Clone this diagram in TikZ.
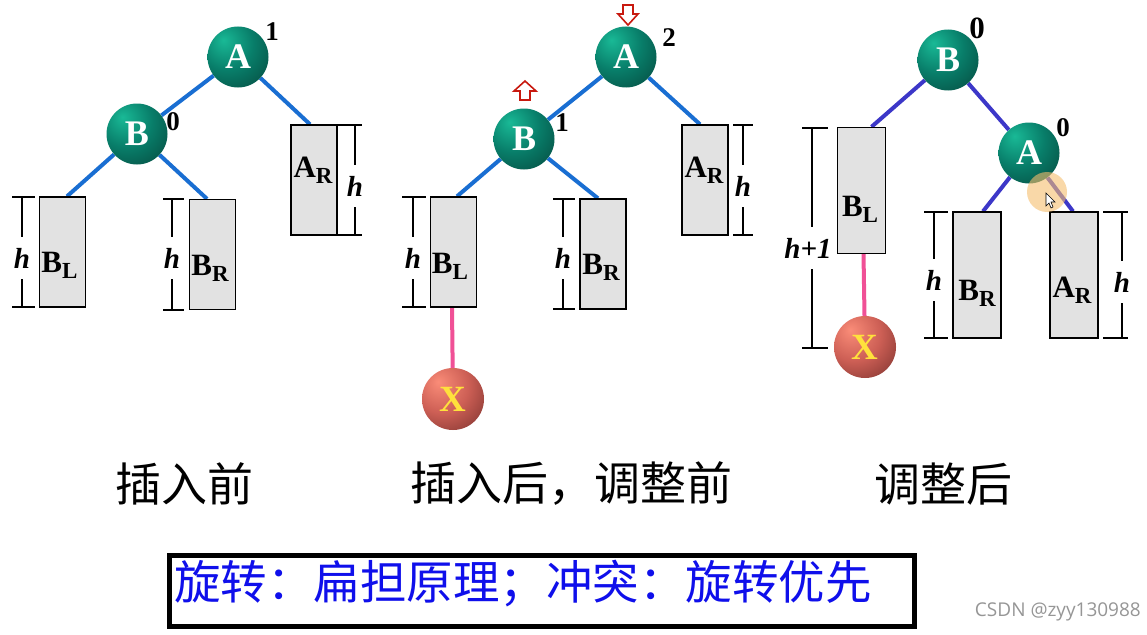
\documentclass[tikz,border=0pt]{standalone}
\usepackage{fontspec}
\setmainfont{Liberation Serif}
\newfontfamily\cjk{Noto Sans CJK SC}
\newfontfamily\wmfont{Open Sans}
\usetikzlibrary{calc}

\definecolor{ballhi}{RGB}{25,185,150}
\definecolor{ballmid}{RGB}{8,125,105}
\definecolor{balldk}{RGB}{5,68,58}
\definecolor{xhi}{RGB}{250,140,120}
\definecolor{xmid}{RGB}{205,95,85}
\definecolor{xdk}{RGB}{115,45,42}
\definecolor{xyellow}{RGB}{255,225,60}
\definecolor{edgeblue}{RGB}{25,110,210}
\definecolor{edgepurple}{RGB}{60,55,200}
\definecolor{pinkline}{RGB}{240,80,150}
\definecolor{boxgray}{RGB}{226,226,226}
\definecolor{arrowred}{RGB}{200,25,15}
\definecolor{textblue}{RGB}{15,15,235}
\definecolor{wmgray}{RGB}{150,150,150}
\definecolor{cursorhl}{RGB}{245,190,110}

\pgfdeclareradialshading{greenball}{\pgfpoint{-12bp}{14bp}}{color(0bp)=(ballhi); color(22bp)=(ballmid); color(48bp)=(balldk); color(100bp)=(balldk)}
\pgfdeclareradialshading{redball}{\pgfpoint{-12bp}{14bp}}{color(0bp)=(xhi); color(22bp)=(xmid); color(48bp)=(xdk); color(100bp)=(xdk)}

\pgfdeclarelayer{bg}
\pgfsetlayers{bg,main}

\newcommand{\sbx}[2]{#1\raisebox{-6pt}{\fontsize{23}{23}\selectfont #2}}

\tikzset{
  ball/.style={circle, minimum size=61pt, inner sep=0pt, shading=greenball, text=white,
    font=\fontsize{36}{36}\selectfont\bfseries},
  xball/.style={circle, minimum size=62pt, inner sep=0pt, shading=redball, text=xyellow,
    font=\fontsize{37}{37}\selectfont\bfseries},
  subtree/.style={draw=black, line width=1.3pt, fill=boxgray, minimum width=46pt,
    minimum height=110pt, inner sep=0pt},
  subtreebig/.style={subtree, minimum width=48pt, minimum height=126pt},
  balnum/.style={font=\fontsize{27}{27}\selectfont\bfseries, inner sep=0pt},
  balnumbig/.style={font=\fontsize{31}{31}\selectfont\bfseries, inner sep=0pt},
  blab/.style={font=\fontsize{31}{31}\selectfont\bfseries, inner sep=0pt},
  hlab/.style={font=\fontsize{29}{29}\selectfont\bfseries\itshape, inner xsep=0pt, inner ysep=11pt},
  brk/.style={line width=1.3pt, black},
  edgeA/.style={line width=4pt, edgeblue},
  edgeB/.style={line width=4pt, edgepurple},
  edgeX/.style={line width=4pt, pinkline},
  redarr/.style={draw=arrowred, line width=1.6pt, fill=white, line join=miter},
  caption/.style={font=\cjk\fontsize{46}{46}\selectfont, inner sep=0pt},
}

\newcommand{\hbr}[8]{%
  \coordinate (#1t) at (#2,#3);
  \coordinate (#1b) at (#2,#4);
  \draw[brk] (#5,#3) -- (#6,#3);
  \draw[brk] (#5,#4) -- (#6,#4);
  \node[hlab] (#1h) at (#2,#7) {#8};
  \draw[brk] (#1t) -- (#1h.north);
  \draw[brk] (#1h.south) -- (#1b);
}

\begin{document}
\begin{tikzpicture}[x=1pt,y=-1pt]
\useasboundingbox (0,0) rectangle (1147,634);
\begin{pgfonlayer}{bg}
  \fill[white] (0,0) rectangle (1147,634);
\end{pgfonlayer}

% ---------------- Tree 1: before insertion ----------------
\node[ball] (A1) at (238,57) {A};
\node[ball] (B1) at (137,134) {B};
\node[subtree] (BL1) at (62.5,252) {};
\node[subtree] (BR1) at (212.5,254.5) {};
\node[subtree] (AR1) at (314,180) {};
\node[balnum] (n1a) at (272,32) {1};
\node[balnum] (n1b) at (173,122) {0};
\node[blab] (lBL1) at (59.5,265.5) {\sbx{B}{L}};
\node[blab] (lBR1) at (210,268) {\sbx{B}{R}};
\node[blab] (lAR1) at (313,170) {\sbx{A}{R}};
\hbr{h1a}{22}{197}{307}{12}{35}{258}{h}
\hbr{h1b}{172}{199}{310}{163}{184}{258}{h}
\hbr{h1c}{355}{125}{235}{338}{362}{186}{h}
\begin{pgfonlayer}{bg}
  \draw[edgeA] (A1) -- (B1);
  \draw[edgeA] (A1) -- ($(AR1.north)+(-4,0)$);
  \draw[edgeA] (B1) -- ($(BL1.north)+(4.5,0)$);
  \draw[edgeA] (B1) -- ($(BR1.north)+(-5.5,0)$);
\end{pgfonlayer}

% ---------------- Tree 2: after insertion ----------------
\node[ball] (A2) at (626,57) {A};
\node[ball] (B2) at (524,139) {B};
\node[subtree] (BL2) at (453.5,252) {};
\node[subtree] (BR2) at (603,254) {};
\node[subtree] (AR2) at (705,180) {};
\node[xball] (X2) at (453,399) {X};
\node[balnum] (n2a) at (669,38) {2};
\node[balnum] (n2b) at (562,123) {1};
\node[blab] (lBL2) at (450,266) {\sbx{B}{L}};
\node[blab] (lBR2) at (601,267) {\sbx{B}{R}};
\node[blab] (lAR2) at (704,170) {\sbx{A}{R}};
\hbr{h2a}{413}{197}{307}{402}{426}{258}{h}
\hbr{h2b}{563}{199}{309}{553}{575}{258}{h}
\hbr{h2c}{743}{125}{235}{733}{753}{186}{h}
\draw[redarr] (623,5) -- (633,5) -- (633,14) -- (638,14) -- (628,25) -- (618,14) -- (623,14) -- cycle;
\draw[redarr] (520,100) -- (530,100) -- (530,91) -- (536,91) -- (525,81) -- (514,91) -- (520,91) -- cycle;
\begin{pgfonlayer}{bg}
  \draw[edgeA] (A2) -- (B2);
  \draw[edgeA] (A2) -- ($(AR2.north)+(-5,0)$);
  \draw[edgeA] (B2) -- ($(BL2.north)+(3.5,0)$);
  \draw[edgeA] (B2) -- ($(BR2.north)+(-5,0)$);
  \draw[edgeX] ($(BL2.south)+(-1.5,0)$) -- (X2);
\end{pgfonlayer}

% ---------------- Tree 3: after rotation ----------------
\node[ball] (B3) at (948,60) {B};
\node[ball] (A3) at (1029,153) {A};
\node[subtreebig] (BL3) at (861.5,190.5) {};
\node[subtreebig] (BR3) at (977,275) {};
\node[subtreebig] (AR3) at (1074,275) {};
\node[xball] (X3) at (865,347) {X};
\node[balnumbig] (n3a) at (977,28) {0};
\node[balnum] (n3b) at (1063,128) {0};
\node[blab] (lBL3) at (860,209) {\sbx{B}{L}};
\node[blab] (lBR3) at (977,293) {\sbx{B}{R}};
\node[blab] (lAR3) at (1072,290) {\sbx{A}{R}};
\hbr{h3a}{812}{128}{348}{802}{828}{248}{\hspace*{-8pt}h+1}
\hbr{h3b}{934}{212}{338}{924}{948}{280}{h}
\hbr{h3c}{1122}{212}{338}{1103}{1128}{282}{h}
\begin{pgfonlayer}{bg}
  \draw[edgeB] (B3) -- ($(BL3.north)+(10,0)$);
  \draw[edgeB] (B3) -- (A3);
  \draw[edgeB] (A3) -- ($(BR3.north)+(6,0)$);
  \draw[edgeB] (A3) -- ($(AR3.north)+(-1,0)$);
  \draw[edgeX] ($(BL3.south)+(2,0)$) -- (X3);
\end{pgfonlayer}
% cursor highlight
\fill[cursorhl, opacity=0.6] (1047,192) circle (20);
\draw[black, line width=0.6pt, fill=white] (1046,193) -- (1046,206) -- (1049,203) -- (1051,208) -- (1053,207) -- (1051,202) -- (1055,202) -- cycle;

% ---------------- Captions ----------------
\node[caption] (c1) at (184,484) {插入前};
\node[caption] (c2) at (571,484) {插入后，调整前};
\node[caption] (c3) at (943,484) {调整后};

% ---------------- Bottom box ----------------
\node[draw=black, line width=5pt, minimum width=745pt, minimum height=71pt, inner sep=0pt] (frame) at (542,591) {};
\node[font=\cjk\fontsize{46.5}{46.5}\selectfont, text=textblue, inner sep=0pt, anchor=west] (rule) at (174,584) {旋转：扁担原理；冲突：旋转优先};

\node[font=\wmfont\fontsize{19}{19}\selectfont, text=wmgray, inner sep=0pt, anchor=east] (wm) at (1141,612) {CSDN @zyy130988};
\end{tikzpicture}
\end{document}
